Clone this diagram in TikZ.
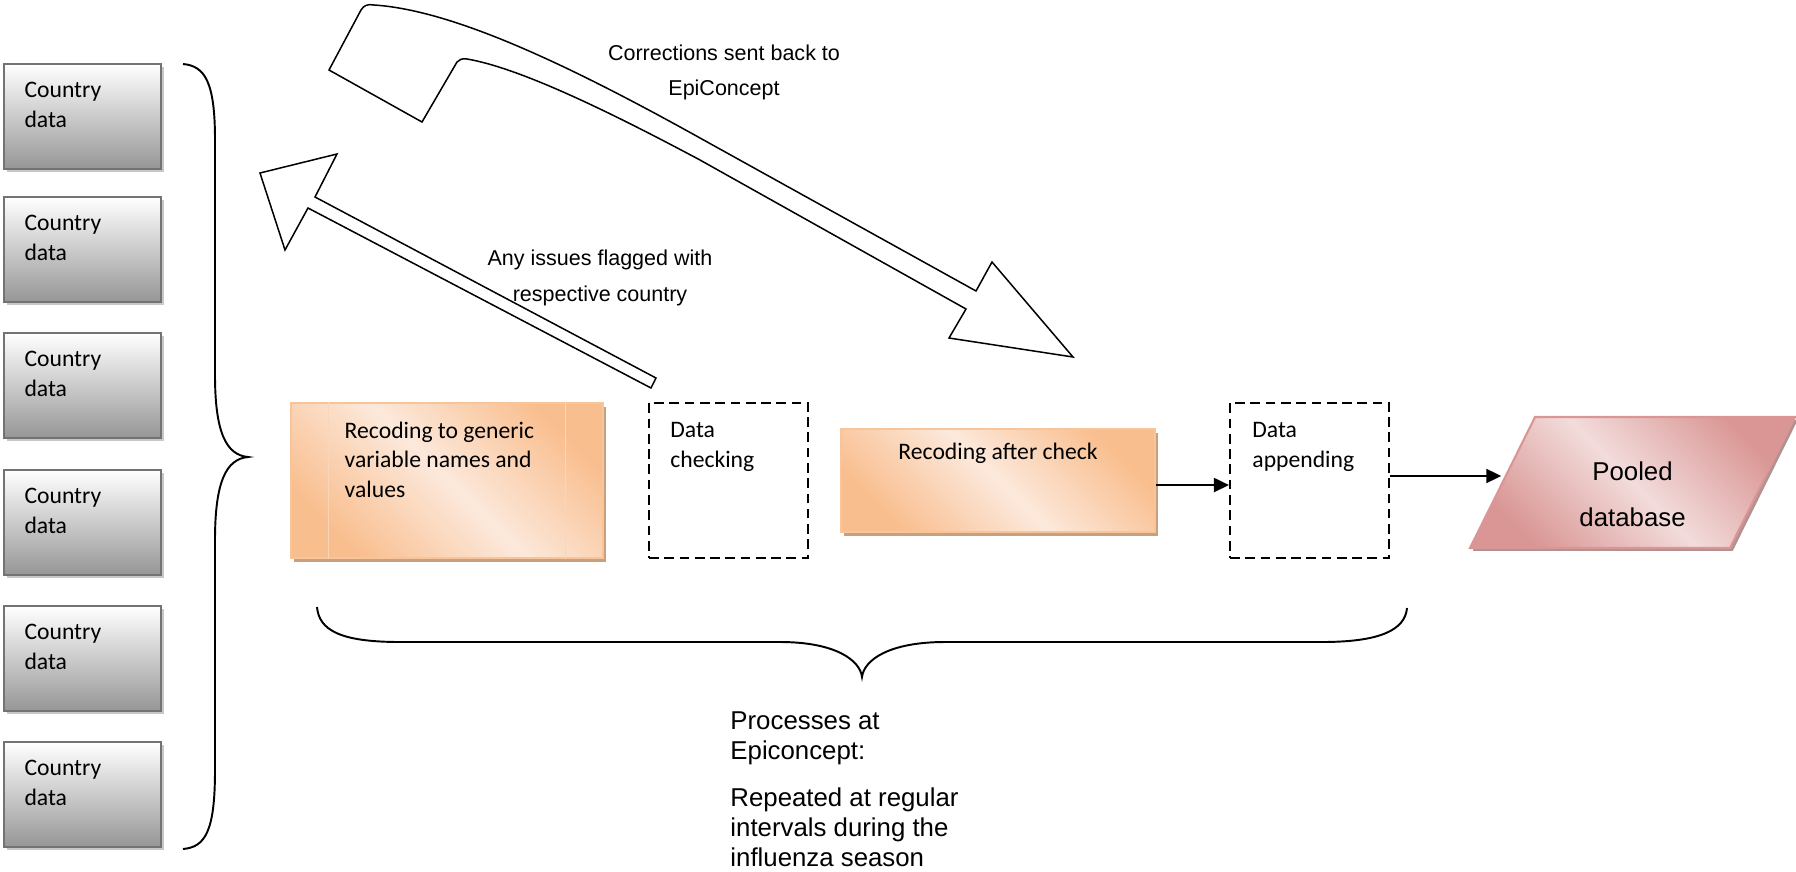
\documentclass[tikz,border=0pt]{standalone}
\usepackage{fontspec}
\newfontfamily\calibri{Carlito}
\newfontfamily\arial{Liberation Sans}
\usetikzlibrary{shapes.geometric,shadows,arrows.meta}
\definecolor{boxedge}{RGB}{115,115,115}
\definecolor{boxshade}{RGB}{150,150,150}
\definecolor{boxshadow}{RGB}{200,200,200}
\definecolor{peachdark}{RGB}{249,190,142}
\definecolor{peachlight}{RGB}{252,233,220}
\definecolor{peachedge}{RGB}{248,196,154}
\definecolor{peachshadow}{RGB}{201,160,125}
\definecolor{pinkdark}{RGB}{217,150,148}
\definecolor{pinklight}{RGB}{242,220,219}
\definecolor{pinkshadow}{RGB}{176,146,146}

\begin{document}
\begin{tikzpicture}
    [x=0.465pt,y=-0.465pt,
     country/.style={rectangle,draw=boxedge,line width=0.9pt,top color=white,bottom color=boxshade,
       minimum width=73pt,minimum height=48.8pt,
       drop shadow={shadow xshift=1.3pt,shadow yshift=-1.3pt,fill=boxshadow,opacity=1}},
     ctext/.style={anchor=north west,inner sep=0pt,align=left,xshift=9.8pt,yshift=-8.8pt,
       font=\calibri\fontsize{11}{13.6}\selectfont},
     btext/.style={anchor=north west,inner sep=0pt,align=left,
       font=\calibri\fontsize{11}{13.8}\selectfont},
     recbox/.style={rectangle,draw=peachedge,line width=0.6pt,
       top color=peachdark,bottom color=peachdark,middle color=peachlight,shading angle=-45,
       drop shadow={shadow xshift=1.3pt,shadow yshift=-1.8pt,fill=peachshadow,opacity=1}},
     recline/.style={draw=peachedge!70,line width=0.6pt},
     chkbox/.style={rectangle,draw,line width=1pt,dash pattern=on 4.5pt off 2.6pt,
       minimum width=73.9pt,minimum height=72.1pt},
     poolbox/.style={trapezium,trapezium left angle=63.6,trapezium right angle=116.4,
       trapezium stretches body,inner xsep=0pt,inner ysep=30.45pt,minimum width=151.1pt,
       draw=pinkdark,line width=1pt,
       top color=pinkdark,bottom color=pinkdark,middle color=pinklight,shading angle=-45,
       drop shadow={shadow xshift=1.3pt,shadow yshift=-1.3pt,fill=pinkshadow,opacity=1}},
     ptext/.style={inner sep=0pt,align=center,font=\arial\fontsize{12}{21.4}\selectfont},
     atext/.style={anchor=north,inner sep=0pt,align=center,font=\arial\fontsize{10}{16.7}\selectfont},
     ntext/.style={anchor=north west,inner sep=0pt,align=left,font=\arial\fontsize{12}{13.95}\selectfont},
     flow/.style={line width=1pt,-{Triangle[length=7pt,width=6.5pt]}},
     blockarrow/.style={draw,fill=white,line width=0.7pt,line join=miter},
     brace/.style={draw,line width=0.9pt}]
    \useasboundingbox (0,0) rectangle (1796,871);

    \foreach \i/\y in {1/116.5,2/249.5,3/385.5,4/522.5,5/658.5,6/794.5}
    \node[country,label={[ctext]north west:Country\\data}] (c\i) at (82.5,\y) {};

    \draw[brace] (183,64) .. controls (205,66) and (215,82) .. (215,140) -- (215,375)
        .. controls (215,432) and (226,455) .. (248,457)
        .. controls (226,459) and (215,482) .. (215,540) -- (215,770)
        .. controls (215,832) and (205,847) .. (183,849);

    \node[recbox,minimum width=145.1pt,minimum height=72.1pt,
          label={[btext,xshift=25.1pt,yshift=-8.8pt]north west:Recoding to generic\\variable names and\\values}] (rec) at (447,480.5) {};
    \draw[recline] ([xshift=17.7pt]rec.north west) -- ([xshift=17.7pt]rec.south west);
    \draw[recline] ([xshift=-17.7pt]rec.north east) -- ([xshift=-17.7pt]rec.south east);
    \node[chkbox,label={[btext,xshift=10.2pt,yshift=-9.3pt]north west:Data\\checking}] (chk) at (728.5,480.5) {};
    \node[recbox,minimum width=146pt,minimum height=47.9pt,
          label={[btext,anchor=north,yshift=-6.8pt]north:Recoding after check}] (rac) at (998,480.5) {};
    \node[chkbox,label={[btext,xshift=10.7pt,yshift=-9.3pt]north west:Data\\appending}] (app) at (1309.5,480.5) {};
    \node[poolbox,label={[ptext,yshift=-5.6pt]center:Pooled\\database}] (pool) at (1632.5,482.5) {};

    \foreach \from/\to/\s in {rac/app/-2.1pt,app/pool/2.1pt}
    \draw[flow] ([yshift=\s]\from.east) -- ([yshift=\s]\from.east -| \to.west);

    \draw[brace] (317,607) .. controls (319,630) and (340,642) .. (400,642) -- (780,642)
        .. controls (835,642) and (860,660) .. (862,677)
        .. controls (864,660) and (889,642) .. (945,642) -- (1322,642)
        .. controls (1380,642) and (1405,630) .. (1407,608);

    \draw[blockarrow] (329,70) -- (361,10) .. controls (364,5) and (368,4) .. (374,5)
        .. controls (450,10) and (560,60) .. (700,138) -- (976,291) -- (992,262)
        -- (1073,357) -- (949,338) -- (966,309) -- (700,160)
        .. controls (610,112) and (520,68) .. (467,59)
        .. controls (462,58) and (459,60) .. (457,62) -- (422,122) -- cycle;
    \draw[blockarrow] (656,378) -- (315,197) -- (337,154) -- (260,173) -- (285,250)
        -- (308,208) -- (651,388) -- cycle;

    \node[atext] (corr) at (724,44) {Corrections sent back to\\EpiConcept};
    \node[atext] (issue) at (600,249.5) {Any issues flagged with\\respective country};
    \node[ntext] (proc) at (730,711) {Processes at\\Epiconcept:\\[7.9pt]Repeated at regular\\intervals during the\\influenza season};
\end{tikzpicture}
\end{document}
